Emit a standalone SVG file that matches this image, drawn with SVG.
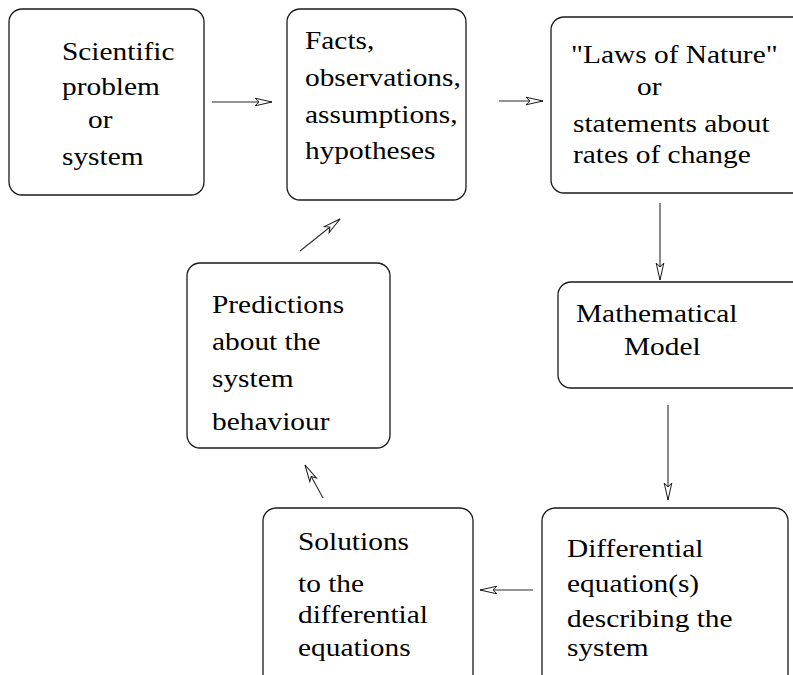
<svg xmlns="http://www.w3.org/2000/svg" width="793" height="675" viewBox="0 0 793 675">
  <style>
    .box { fill: #ffffff; stroke: #1a1a1a; stroke-width: 1.3; }
    text { font-family: 'Liberation Serif', 'Times New Roman', Times, serif; font-size: 26px; fill: #000000; }
    .link { stroke: #2a2a2a; stroke-width: 1.1; fill: none; marker-end: url(#head); }
  </style>
  <defs>
    <!-- notched open arrowhead shared by every connector -->
    <marker id="head" viewBox="-19 -5 20 10" refX="0" refY="0" markerWidth="20" markerHeight="10" markerUnits="userSpaceOnUse" orient="auto">
      <path d="M0,0 L-17,-3.8 L-13,0 L-17,3.8 Z" fill="#ffffff" stroke="#1a1a1a" stroke-width="1"/>
    </marker>
  </defs>
  <rect width="793" height="675" fill="#ffffff"/>

  <g id="problem" font-family="Liberation Serif, serif">
    <rect class="box" x="9" y="9" width="195" height="186" rx="13"/>
    <text transform="translate(62,60) scale(1.13,1)">Scientific</text>
    <text transform="translate(62,95) scale(1.13,1)">problem</text>
    <text transform="translate(88,128) scale(1.13,1)">or</text>
    <text transform="translate(62,165) scale(1.13,1)">system</text>
  </g>

  <g id="facts" font-family="Liberation Serif, serif">
    <rect class="box" x="287" y="9" width="179" height="191" rx="13"/>
    <text transform="translate(305,49) scale(1.13,1)">Facts,</text>
    <text transform="translate(305,86) scale(1.13,1)">observations,</text>
    <text transform="translate(305,123) scale(1.13,1)">assumptions,</text>
    <text transform="translate(305,159) scale(1.13,1)">hypotheses</text>
  </g>

  <g id="laws" font-family="Liberation Serif, serif">
    <rect class="box" x="551" y="17" width="260" height="176" rx="13"/>
    <text transform="translate(571,63) scale(1.13,1)">"Laws of Nature"</text>
    <text transform="translate(637,95) scale(1.13,1)">or</text>
    <text transform="translate(573,132) scale(1.13,1)">statements about</text>
    <text transform="translate(573,163) scale(1.13,1)">rates of change</text>
  </g>

  <g id="model" font-family="Liberation Serif, serif">
    <rect class="box" x="558" y="282" width="260" height="106" rx="13"/>
    <text transform="translate(576,322) scale(1.13,1)">Mathematical</text>
    <text transform="translate(624,355) scale(1.13,1)">Model</text>
  </g>

  <g id="predictions" font-family="Liberation Serif, serif">
    <rect class="box" x="187" y="263" width="203" height="185" rx="13"/>
    <text transform="translate(212,313) scale(1.13,1)">Predictions</text>
    <text transform="translate(212,350) scale(1.13,1)">about the</text>
    <text transform="translate(212,387) scale(1.13,1)">system</text>
    <text transform="translate(212,430) scale(1.13,1)">behaviour</text>
  </g>

  <g id="solutions" font-family="Liberation Serif, serif">
    <rect class="box" x="263" y="508" width="210" height="180" rx="13"/>
    <text transform="translate(298,550) scale(1.13,1)">Solutions</text>
    <text transform="translate(298,592) scale(1.13,1)">to the</text>
    <text transform="translate(298,623) scale(1.13,1)">differential</text>
    <text transform="translate(298,656) scale(1.13,1)">equations</text>
  </g>

  <g id="differential" font-family="Liberation Serif, serif">
    <rect class="box" x="542" y="508" width="246" height="180" rx="13"/>
    <text transform="translate(567,557) scale(1.13,1)">Differential</text>
    <text transform="translate(567,592) scale(1.13,1)">equation(s)</text>
    <text transform="translate(567,627) scale(1.13,1)">describing the</text>
    <text transform="translate(567,656) scale(1.13,1)">system</text>
  </g>

  <g id="connectors">
    <line class="link" x1="212" y1="102" x2="272" y2="102"/>
    <line class="link" x1="499" y1="101" x2="543" y2="101"/>
    <line class="link" x1="660" y1="203" x2="660" y2="280"/>
    <line class="link" x1="668" y1="405" x2="668" y2="500"/>
    <line class="link" x1="533" y1="590" x2="480" y2="590"/>
    <line class="link" x1="323" y1="498" x2="305" y2="465"/>
    <line class="link" x1="300" y1="251" x2="340" y2="219"/>
  </g>
</svg>
